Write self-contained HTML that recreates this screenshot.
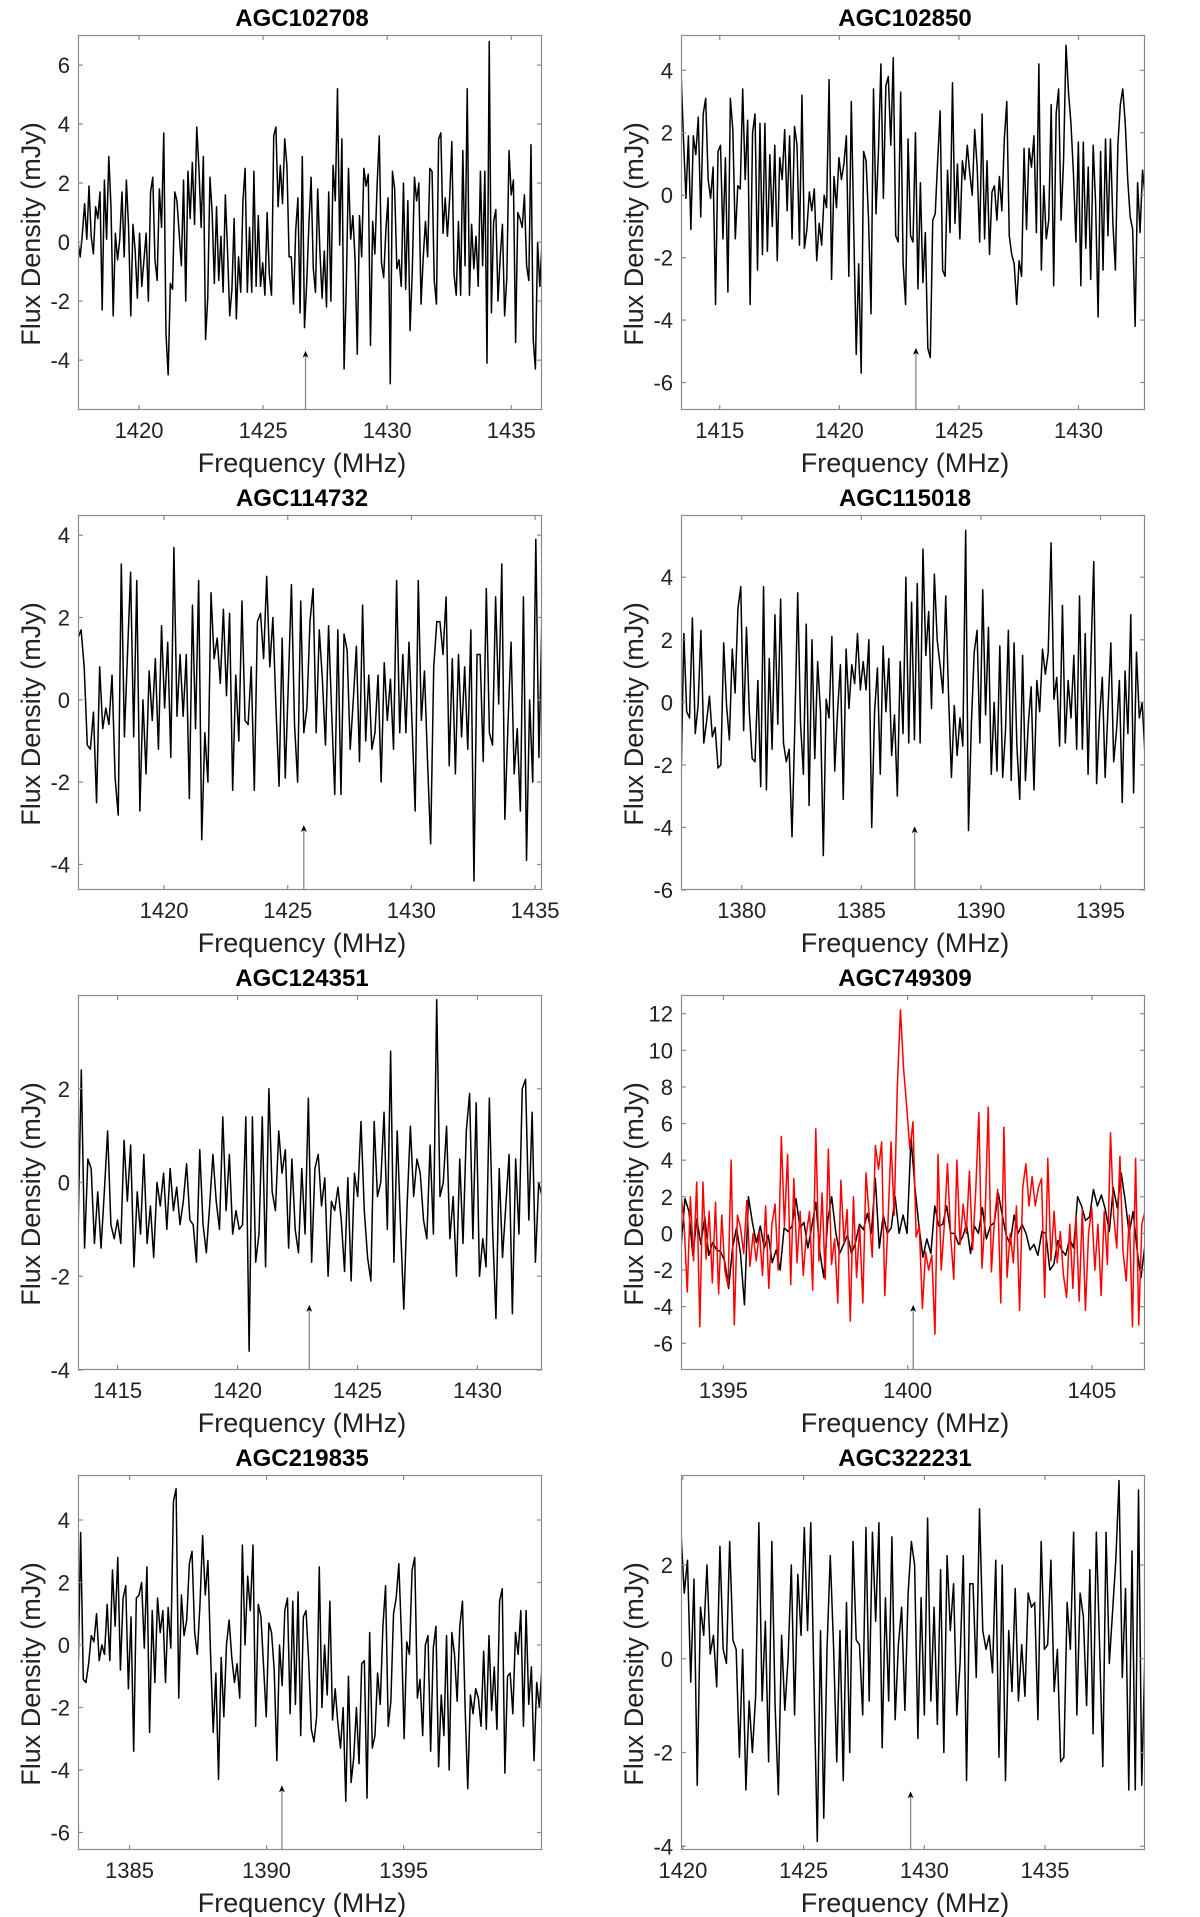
<!DOCTYPE html>
<html><head><meta charset="utf-8"><style>
html,body{margin:0;padding:0;background:#fff;}
svg{display:block;font-family:"Liberation Sans",Arial,sans-serif;}
</style></head><body>
<svg id="fig" width="1200" height="1917" viewBox="0 0 1200 1917" xmlns="http://www.w3.org/2000/svg"></svg>
<script>
// ---- data ----
const titles = ["AGC102708","AGC102850","AGC114732","AGC115018","AGC124351","AGC749309","AGC219835","AGC322231"];
const freqStart = [1417.54,1413.38,1416.52,1377.46,1413.35,1393.85,1383.12,1419.92];
const freqEnd   = [1436.24,1432.78,1435.28,1396.86,1432.69,1406.44,1400.05,1439.14];
const yMin = [-5.69,-6.88,-4.62,-6.0,-4.0,-7.46,-6.56,-4.08];
const yMax = [7.02,5.13,4.49,5.99,4.0,13.02,5.44,3.92];
const xTicks = [[1420,1425,1430,1435],[1415,1420,1425,1430],[1420,1425,1430,1435],[1380,1385,1390,1395],[1415,1420,1425,1430],[1395,1400,1405],[1385,1390,1395],[1420,1425,1430,1435]];
const yTicks = [[6,4,2,0,-2,-4],[4,2,0,-2,-4,-6],[4,2,0,-2,-4],[4,2,0,-2,-4,-6],[2,0,-2,-4],[12,10,8,6,4,2,0,-2,-4,-6],[4,2,0,-2,-4,-6],[2,0,-2,-4]];
const arrowFreq = [1426.71,1423.2,1425.65,1387.23,1422.99,1400.15,1390.56,1429.43];
const arrowTip  = [-3.68,-4.89,-3.04,-3.96,-2.61,-3.9,-4.49,-2.83];

const flux1 = [0,-0.5,0.3,1.3,0.1,1.9,0.2,-0.4,1.2,0.8,1.7,-2.3,2.1,0.1,2.9,1.2,-2.5,0.3,-0.6,0.1,1.7,-0.5,2.1,0.5,-2.5,0.6,-0.3,-1.9,0.3,-1.5,-0.6,0.3,-2.0,1.7,2.2,-0.6,-1.3,1.8,0.5,3.7,-3.1,-4.5,-1.4,-1.6,1.7,1.4,0.3,-0.8,2.1,-2.0,2.4,0.8,2.7,0.6,3.9,2.5,0.5,2.9,-3.3,-1.9,2.2,1.0,-1.4,1.2,-1.3,0.2,-1.7,1.6,-0.3,-2.5,-1.6,0.8,-2.6,-0.5,-1.7,1.4,2.5,-1.7,0.5,-1.7,2.4,-1.5,0.9,-1.5,-0.7,-1.8,1.0,-1.1,-1.8,3.6,3.9,1.2,2.6,1.3,3.5,2.6,-0.5,-0.5,-2.1,0.4,1.5,-2.4,2.9,-2.9,-1.4,0.6,2.2,-0.9,-1.7,1.8,-0.3,-1.9,-0.3,-2.2,1.7,-2.0,2.6,1.4,5.2,-0.1,3.5,-4.3,-1.5,2.5,0.1,0.9,-0.6,-3.8,0.9,-0.5,2.5,1.9,2.3,-3.5,0.7,-0.4,1.9,3.6,-0.7,-1.2,0.4,1.5,-4.8,2.4,1.8,-0.9,-0.6,-1.5,2.0,-1.6,1.4,-3.0,-1.0,2.2,1.4,2.0,-2.1,-0.5,0.7,-0.5,2.5,2.4,-1.3,-2.1,3.5,3.7,0.3,1.5,0.2,1.5,3.4,-1.1,-1.8,0.7,-1.8,3.1,-0.8,5.2,-1.8,0.6,-0.9,0.2,-1.5,2.4,-0.8,2.4,-4.1,6.8,-2.4,0.7,1.1,-2.0,-0.5,0.6,-2.5,-1.2,3.1,1.6,2.1,-3.4,1.0,0.8,0.5,1.6,-0.8,-1.3,3.3,-3.3,-4.3,0.0,-1.5,0.0];
const flux2 = [4.0,1.8,-0.1,1.9,-1.1,1.9,1.3,2.5,-0.7,2.6,3.1,0.5,-0.1,0.9,-3.5,1.4,1.6,-1.4,1.2,-3.1,3.1,2.1,-1.4,0.3,0.2,3.4,0.5,2.4,-3.5,2.0,2.6,-2.4,2.3,-1.9,2.3,-1.8,1.3,-1.0,1.6,-2.1,1.2,0.5,2.1,-0.5,1.9,-1.4,2.2,1.6,-1.6,3.2,-1.7,-1.1,0.1,-0.5,0.2,-2.1,-0.9,-1.6,0.0,-0.4,3.7,-2.7,0.6,-0.4,1.2,0.5,1.0,1.9,-2.6,3.0,-1.1,-5.1,-2.2,-5.7,1.4,1.1,-0.8,-3.8,3.4,-0.6,1.4,4.2,-0.1,3.5,3.8,1.6,4.4,-1.3,-1.5,3.3,-2.2,-3.5,1.8,-1.3,-1.5,2.0,-3.0,0.4,-2.8,-1.2,-4.9,-5.2,-0.8,-0.6,1.1,2.7,-2.4,-2.6,0.8,-1.2,3.6,-0.9,1.0,-1.4,1.1,0.5,1.6,0.7,0.0,2.1,0.9,-1.5,2.6,-1.4,1.1,-1.9,0.1,0.3,-0.8,0.6,-0.5,1.8,3.0,-1.3,-1.9,-2.2,-3.5,-2.1,-2.6,1.5,-1.1,1.5,0.9,1.9,-1.2,4.2,-2.4,0.3,-1.4,-0.8,2.9,-2.9,2.6,3.4,-0.8,1.1,4.8,3.3,2.3,0.7,-1.5,1.7,-2.9,1.7,-1.7,0.9,-2.7,1.6,-0.3,-3.9,1.4,-2.4,1.8,-1.3,1.8,-0.9,-2.4,1.6,2.9,3.4,2.3,0.5,-0.7,-1.1,-4.2,0.4,-1.2,0.8,0.0];
const flux3 = [1.5,1.7,0.8,-1.1,-1.2,-0.3,-2.5,0.8,-0.7,-0.2,-0.6,0.6,-1.9,-2.8,3.3,-0.9,1.1,3.1,-0.9,2.9,-2.7,0.0,-1.8,0.7,-0.5,1.0,-1.2,1.8,-0.2,1.4,-1.4,3.7,-0.4,1.1,-0.4,1.1,-2.4,2.3,-0.7,2.9,-3.4,-0.8,-2.0,2.6,1.0,1.5,0.4,2.2,0.1,2.1,-2.2,0.6,-1.0,2.4,-0.5,-0.6,0.8,-2.2,1.9,2.1,1.0,3.0,0.8,2.0,-0.2,-2.1,1.5,-1.9,0.4,2.8,-0.6,-2.0,2.4,-0.8,-0.2,1.9,2.7,-0.8,1.7,0.5,-1.1,1.8,-0.3,-2.3,1.7,-2.3,1.6,1.2,-1.2,0.0,1.3,-1.5,2.3,-1.0,0.6,-1.2,-0.8,0.6,-2.0,0.9,-0.5,0.5,-1.2,2.9,-0.8,1.1,-0.8,1.4,-0.6,-2.7,2.9,-0.5,0.7,-1.5,-3.5,0.8,1.9,1.9,1.1,2.5,-1.6,1.0,-1.8,1.1,-0.9,0.8,-1.2,1.7,-4.4,1.1,1.1,-1.5,2.7,-0.8,-1.1,2.5,-0.1,3.3,-2.9,-0.6,1.4,-1.8,-0.7,-2.7,2.5,-3.9,0.0,-2.0,3.9,-1.4,2.1];
const flux4 = [-2.6,2.2,-0.3,-0.5,2.7,-1.0,-0.1,2.3,-1.3,-0.6,0.2,-1.1,-0.8,-2.1,-2.0,1.9,-0.1,-1.2,1.7,0.3,3.0,3.7,-0.9,2.4,-0.3,-1.8,-1.9,0.7,-2.7,3.7,-2.8,1.4,-1.5,2.8,-0.7,3.3,-1.3,-1.9,-1.5,-4.3,-0.7,3.5,-0.7,-2.3,2.5,-3.3,2.0,-1.8,1.3,-0.3,-4.9,0.1,-0.5,2.1,-2.2,-0.3,1.2,-3.1,1.7,-0.2,1.2,0.6,2.2,0.4,1.3,0.4,2.0,-4.0,-0.3,1.1,-2.3,1.8,-0.3,1.4,-1.7,-0.4,-3.0,1.3,-1.0,4.0,-1.3,3.2,-1.2,3.8,-1.3,4.9,1.5,2.9,-0.2,4.1,2.0,1.2,0.3,3.4,0.2,-2.4,-0.1,-1.7,-0.5,-1.4,5.5,-4.1,-0.7,1.6,2.3,-1.3,3.6,-0.4,2.4,-2.3,0.0,-2.2,1.8,-2.4,-0.9,2.3,-2.5,1.9,-1.4,-3.1,1.5,-2.5,-0.7,0.5,-2.8,0.7,-0.3,1.7,0.9,1.6,5.1,0.1,0.8,-1.4,3.1,-1.3,0.7,-0.5,1.5,-1.5,3.4,-1.5,2.2,-2.3,1.5,4.5,-2.6,-0.5,0.8,-2.4,-0.2,1.9,-1.9,-0.9,0.7,-3.2,1.0,-1.0,2.8,-2.9,1.6,-0.5,0.0,-1.7];
const flux5 = [-1.1,2.4,-1.4,0.5,0.3,-1.3,-0.2,-1.4,-0.2,1.1,-0.9,-1.2,-0.8,-1.3,0.9,-0.4,0.8,-1.8,-0.2,-1.1,0.6,-1.3,-0.5,-1.6,0.0,-0.5,0.2,-1.0,0.3,-0.6,-0.1,-0.9,-0.4,0.4,-0.8,-0.9,-1.7,0.7,-0.9,-1.5,-0.5,0.6,-0.4,-1.0,1.4,-0.6,0.6,-1.1,-0.6,-1.0,-0.9,1.4,-3.6,1.4,-1.7,-1.1,1.4,-1.8,2.0,-0.2,-0.6,1.1,0.2,0.7,-1.4,0.5,-1.0,-1.5,0.3,-1.1,1.8,-1.7,0.3,0.6,-0.5,0.1,-2.0,-0.4,-0.6,-0.1,-0.8,-1.9,0.1,-2.1,0.2,-0.3,1.3,-0.6,-1.6,-2.1,1.3,-0.3,0.0,1.5,-1.0,2.8,-1.7,1.1,-0.9,-2.7,-0.5,1.2,-0.3,0.5,0.2,-0.8,-1.2,0.8,-1.1,3.9,-0.3,0.0,1.2,-1.2,-0.3,-2.0,0.5,-1.3,1.1,1.9,-1.2,1.7,-2.0,-1.2,-1.8,1.8,-1.0,-2.9,0.3,-1.6,-0.5,0.6,-2.8,0.5,-1.1,2.0,2.2,-0.8,1.5,-1.7,0.0,-0.3];
const flux6 = [-0.8,1.9,1.2,-1.2,0.8,-0.6,0.9,-1.2,-0.5,-0.9,-1.0,-1.5,-3.0,-0.8,0.3,-1.1,-3.9,2.0,0.6,-0.5,0.4,-0.8,-0.1,-1.6,-0.9,-2.0,0.3,0.1,0.4,1.9,0.3,0.6,-0.8,0.4,1.7,-1.0,-2.4,0.7,2.0,0.1,-1.1,-0.6,-0.1,-1.1,-0.5,0.5,0.2,1.1,0.0,3.0,-0.8,1.0,0.0,0.3,2.0,0.0,1.0,0.0,5.2,2.5,0.4,-1.3,-0.3,-1.1,1.5,0.4,0.5,1.5,0.0,0.0,-0.6,-0.2,0.5,-1.1,0.4,0.0,1.4,-0.3,0.4,0.6,2.2,1.0,-0.1,-0.6,1.0,0.0,0.5,0.0,-0.9,-0.6,-1.2,0.1,0.0,-2.0,-1.7,-0.4,-0.9,-1.2,-0.3,-0.8,2.0,1.5,0.7,0.9,2.4,1.5,2.1,1.3,0.1,2.5,1.4,3.3,1.8,0.0,1.2,-0.9,-2.4,-0.6];
const flux6Red = [2.2,0.5,-3.2,2.0,-1.5,2.8,-5.1,2.8,-1.4,1.2,-2.7,1.7,-3.3,1.0,-2.0,-2.9,4.0,-5.0,1.0,0.3,-1.1,1.8,-1.8,0.0,-1.5,0.1,-2.3,1.5,-3.0,0.5,1.6,-2.0,5.3,0.4,4.3,-2.8,3.0,-1.6,1.2,-2.3,0.0,1.2,-3.1,5.7,-1.5,2.2,-2.5,4.6,-1.7,-0.3,-3.8,2.9,-0.5,1.3,-4.8,2.0,-2.4,0.4,-3.8,3.3,1.0,-1.3,4.8,3.5,5.0,-3.4,0.5,5.0,1.0,8.0,12.2,9.0,6.9,4.6,6.1,-0.2,0.4,-4.1,-1.0,-2.0,-1.2,-5.5,4.3,-2.0,0.5,3.8,-0.1,-2.5,4.0,-0.6,1.6,0.0,3.4,-0.9,2.3,6.6,-1.9,0.9,6.9,-2.1,0.8,2.4,-3.8,5.8,-2.4,0.0,-1.6,1.5,-4.2,2.5,3.8,1.5,3.1,1.5,2.5,3.0,-3.5,4.1,-1.5,1.2,-1.6,0.1,-2.3,-3.5,0.5,-3.0,1.0,-3.7,1.3,-4.2,0.0,1.4,-2.0,0.5,-3.4,1.2,-1.7,5.5,1.0,-0.8,4.2,-1.0,-2.6,1.0,-5.1,4.1,-5.0,0.5,1.2];
const flux7 = [-1.2,3.6,-1.1,-1.2,-0.6,0.3,0.1,1.0,-0.5,0.0,-0.3,1.3,-0.5,2.4,0.6,2.8,-0.8,1.5,1.9,-1.4,0.9,-3.4,1.5,1.6,2.0,-0.1,2.5,-2.8,1.1,-1.2,1.5,0.4,1.1,-1.2,1.2,-0.1,4.6,5.0,-1.7,1.6,0.3,0.8,2.6,3.0,0.4,-0.3,1.3,3.5,1.6,2.7,-0.3,-2.8,-0.9,-4.3,-0.4,-2.3,0.0,0.8,-0.4,-1.2,-0.6,-1.7,3.2,0.0,2.2,1.1,3.2,-2.6,1.3,0.9,-0.7,-2.3,0.7,0.4,-0.8,-3.7,0.0,-1.3,1.1,1.5,-2.2,1.4,-1.9,1.7,-2.9,0.9,1.1,-0.5,-2.7,-3.1,-2.3,2.5,-2.0,0.0,-1.6,1.4,-2.4,-1.4,-2.5,-3.3,-2.0,-5.0,-1.0,-4.4,-3.6,-2.0,-3.8,-0.6,-0.5,-4.9,0.4,-3.3,-2.9,-0.9,-1.9,0.6,1.9,-2.6,-1.8,1.0,1.5,2.6,0.3,-3.0,0.1,-0.3,2.4,2.8,-1.7,-1.1,-2.9,0.0,0.3,-3.4,-0.1,0.6,-3.9,-1.6,-2.9,0.3,-4.0,0.4,-0.3,-1.8,0.6,1.4,-2.0,-4.6,-1.6,-2.2,-1.4,-1.7,-2.6,-0.2,-2.7,0.3,-2.1,-0.7,-2.7,1.4,1.8,-4.1,-1.0,-0.9,-2.2,0.4,-0.3,1.1,-2.6,1.1,-1.9,-0.7,-3.7,-1.2,-2.0,-0.7];
const flux8 = [2.7,1.4,2.1,-0.5,1.7,-2.7,1.1,0.5,2.0,0.1,0.5,-0.6,2.4,0.2,-0.1,2.5,0.4,0.2,-2.1,0.2,-2.8,-0.9,-2.0,-0.8,2.9,-0.9,0.8,-2.2,2.5,-1.0,-2.9,0.5,-1.1,0.0,2.0,-1.2,1.8,0.5,2.8,0.6,2.9,-0.6,-3.9,0.6,-3.4,0.2,2.2,0.3,-2.2,0.6,-2.6,1.2,-2.0,2.5,0.4,0.3,-1.2,2.8,-0.9,2.7,0.8,2.9,-1.9,1.3,-0.9,2.6,-1.3,0.3,1.1,-1.1,1.4,2.5,2.0,-1.7,1.3,-1.2,3.0,-0.9,1.1,-1.4,1.9,-2.0,2.2,0.6,1.6,-1.2,-0.1,2.2,-2.6,1.6,1.6,-0.4,3.2,0.6,0.2,0.5,-0.3,2.1,-2.1,2.0,-2.6,0.6,-0.7,1.5,-0.9,0.3,-0.8,1.4,1.1,1.2,-1.3,2.5,0.2,0.3,2.1,-0.7,0.2,-2.2,-2.1,1.2,0.2,2.7,-1.2,1.4,0.9,-1.0,1.9,-1.6,2.7,0.3,-2.3,2.7,-0.1,1.0,2.1,3.8,-0.4,1.5,-2.8,2.3,-2.8,3.6,-2.7,0.2];

// ---- layout ----
const colLeft = [78, 681], boxW = 464;
const rowTop = [35, 515, 995, 1475], boxH = 375;
const NS = "http://www.w3.org/2000/svg";
const svg = document.getElementById('fig');
function mk(tag, attrs, parent){const e=document.createElementNS(NS,tag);for(const k in attrs)e.setAttribute(k,attrs[k]);(parent||svg).appendChild(e);return e;}

const fluxSets = [[flux1],[flux2],[flux3],[flux4],[flux5],[flux6,flux6Red],[flux7],[flux8]];
const colors = ["#000","#ff0000"];

for (let i=0;i<8;i++){
  const L = colLeft[i%2], T = rowTop[Math.floor(i/2)], R=L+boxW, B=T+boxH;
  const xs = f => L + (f-freqStart[i])/(freqEnd[i]-freqStart[i])*boxW;
  const ys = v => B - (v-yMin[i])/(yMax[i]-yMin[i])*boxH;
  const g = mk('g',{});
  
  

  const t = mk('text',{x:L+boxW/2-8,y:T-9,'text-anchor':'middle','font-size':24,'font-weight':'bold',fill:'#000'},g);
  t.textContent = titles[i];
  
  

  // clip
  const cp = mk('clipPath',{id:'c'+i},g); mk('rect',{x:L,y:T,width:boxW,height:boxH},cp);

  // series
  fluxSets[i].forEach((arr,si)=>{
    const n = arr.length;
    const pts = arr.map((v,k)=>xs(freqStart[i]+(freqEnd[i]-freqStart[i])*k/(n-1)).toFixed(2)+','+ys(v).toFixed(2)).join(' ');
    const pl = mk('polyline',{points:pts,fill:'none',stroke:colors[si],'stroke-width':1.5,'stroke-linejoin':'round','clip-path':'url(#c'+i+')'},g);
    
    
  });

  // frame
  const fr = mk('rect',{x:L+0.5,y:T+0.5,width:boxW-1,height:boxH-1,fill:'none',stroke:'#8a8a8a','stroke-width':1.2},g);
  
  

  // x ticks
  xTicks[i].forEach(tv=>{
    const x = xs(tv);
    mk('line',{x1:x,y1:B,x2:x,y2:B-5,stroke:'#8a8a8a','stroke-width':1.2},g);
    mk('line',{x1:x,y1:T,x2:x,y2:T+5,stroke:'#8a8a8a','stroke-width':1.2},g);
    const tl = mk('text',{x:x,y:B+28,'text-anchor':'middle','font-size':22,fill:'#222'},g);
    tl.textContent = tv;
    
    
  });
  // y ticks
  yTicks[i].forEach(tv=>{
    const y = ys(tv);
    mk('line',{x1:L,y1:y,x2:L+5,y2:y,stroke:'#8a8a8a','stroke-width':1.2},g);
    mk('line',{x1:R,y1:y,x2:R-5,y2:y,stroke:'#8a8a8a','stroke-width':1.2},g);
    const tl = mk('text',{x:L-8,y:y+8,'text-anchor':'end','font-size':22,fill:'#222'},g);
    tl.textContent = tv;
    
    
  });

  // arrow
  const ax = xs(arrowFreq[i]), ay = ys(arrowTip[i]);
  const al = mk('line',{x1:ax,y1:B,x2:ax,y2:ay+2,stroke:'#888','stroke-width':1.3},g);
  
  
  mk('path',{d:`M${ax-3},${ay+7} L${ax},${ay} L${ax+3},${ay+7} L${ax},${ay+5} Z`,fill:'#000'},g);

  // axis labels
  const xl = mk('text',{x:L+boxW/2-8,y:B+62,'text-anchor':'middle','font-size':27,fill:'#222'},g);
  xl.textContent = 'Frequency (MHz)';
  
  
  const cy = T+199, cx = L-47 + (i%2 ? 0 : 0);
  const yl = mk('text',{x:0,y:0,'text-anchor':'middle','font-size':27,fill:'#222',transform:`translate(${cx+9},${cy}) rotate(-90)`},g);
  yl.textContent = 'Flux Density (mJy)';
  
  
}
</script>
</body></html>
